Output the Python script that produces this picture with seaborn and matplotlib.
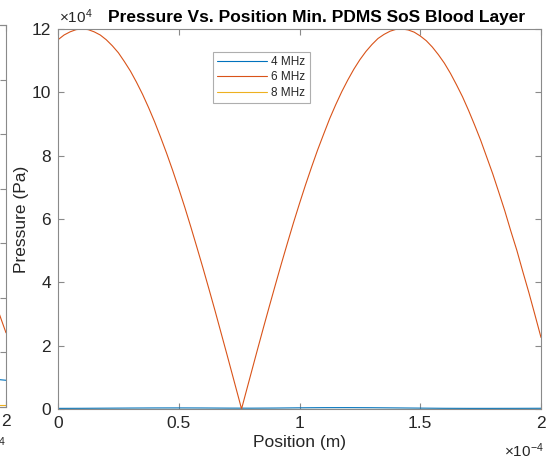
import pandas as pd
import matplotlib
matplotlib.use("Agg")
import matplotlib.pyplot as plt
from matplotlib.ticker import MultipleLocator
import seaborn as sns

# Position along the layer (units of 1e-4 m)
position = [0.000, 0.025, 0.050, 0.075, 0.100, 0.125, 0.150, 0.175, 0.200, 0.225,
            0.250, 0.275, 0.300, 0.325, 0.350, 0.375, 0.400, 0.425, 0.450, 0.475,
            0.500, 0.525, 0.550, 0.575, 0.600, 0.625, 0.650, 0.675, 0.700, 0.725,
            0.750, 0.760, 0.775, 0.800, 0.825, 0.850, 0.875, 0.900, 0.925, 0.950,
            0.975, 1.000, 1.025, 1.050, 1.075, 1.100, 1.125, 1.150, 1.175, 1.200,
            1.225, 1.250, 1.275, 1.300, 1.325, 1.350, 1.375, 1.400, 1.425, 1.450,
            1.475, 1.500, 1.525, 1.550, 1.575, 1.600, 1.625, 1.650, 1.675, 1.700,
            1.725, 1.750, 1.775, 1.800, 1.825, 1.850, 1.875, 1.900, 1.925, 1.950,
            1.975, 2.000]
# Pressure amplitude at 6 MHz (units of 1e4 Pa)
p_6mhz = [11.66, 11.81, 11.91, 11.98, 12.00, 11.98, 11.91, 11.81, 11.66, 11.47,
          11.25, 10.97, 10.67, 10.32, 9.94, 9.52, 9.07, 8.58, 8.07, 7.53,
          6.96, 6.37, 5.75, 5.11, 4.46, 3.79, 3.11, 2.41, 1.71, 1.00,
          0.29, 0.00, 0.43, 1.14, 1.85, 2.55, 3.24, 3.92, 4.59, 5.24,
          5.88, 6.49, 7.08, 7.64, 8.18, 8.68, 9.17, 9.61, 10.02, 10.39,
          10.73, 11.03, 11.29, 11.51, 11.70, 11.83, 11.93, 11.99, 12.00, 11.97,
          11.90, 11.78, 11.63, 11.43, 11.19, 10.92, 10.60, 10.24, 9.86, 9.43,
          8.97, 8.49, 7.96, 7.43, 6.85, 6.26, 5.62, 5.01, 4.33, 3.67,
          2.97, 2.26]

# Coarser sampling for the low-amplitude 4 MHz and 8 MHz traces
position_lo = [0.0, 0.1, 0.2, 0.3, 0.4, 0.5, 0.6, 0.7, 0.8, 0.9, 1.0,
               1.1, 1.2, 1.3, 1.4, 1.5, 1.6, 1.7, 1.8, 1.9, 2.0]
p_4mhz = [0.020, 0.022, 0.026, 0.030, 0.033, 0.034, 0.032, 0.028, 0.026, 0.030, 0.037,
          0.042, 0.043, 0.040, 0.034, 0.028, 0.022, 0.020, 0.020, 0.021, 0.023]
p_8mhz = [0.006, 0.006, 0.006, 0.006, 0.006, 0.006, 0.006, 0.006, 0.006, 0.006, 0.006,
          0.006, 0.006, 0.006, 0.006, 0.006, 0.006, 0.006, 0.006, 0.006, 0.006]
series_labels = ["4 MHz", "6 MHz", "8 MHz"]

# Tail end of the neighbouring subplot
prev_position = [1.90, 1.95, 2.00]
prev_4mhz = [0.52, 0.51, 0.49]
prev_6mhz = [2.60, 1.98, 1.36]
prev_8mhz = [0.04, 0.04, 0.04]

colors = ["#0072BD", "#D95319", "#EDB120"]
axis_gray = "#8a8a8a"
text_dark = "#262626"
FS = 12.5

sns.set_theme(style="white")
plt.rcParams["font.family"] = ["Liberation Sans", "DejaVu Sans"]
plt.rcParams["mathtext.fontset"] = "custom"
plt.rcParams["mathtext.rm"] = "Liberation Sans"
plt.rcParams["mathtext.it"] = "Liberation Sans"

W, H = 551, 461
fig = plt.figure(figsize=(W / 100, H / 100), dpi=100)
fig.patch.set_facecolor("white")


def px_axes(left, top, right, bottom):
    return fig.add_axes([left / W, 1 - bottom / H, (right - left) / W, (bottom - top) / H])


def style_axes(ax):
    for s in ax.spines.values():
        s.set_color(axis_gray)
        s.set_linewidth(0.8)
    ax.tick_params(direction="in", length=4, width=0.8, color=axis_gray,
                   top=True, right=True, bottom=True, left=True,
                   labelsize=FS, labelcolor=text_dark, pad=5)


df = pd.DataFrame({
    "Position": position_lo + position + position_lo,
    "Pressure": p_4mhz + p_6mhz + p_8mhz,
    "Frequency": [series_labels[0]] * len(position_lo) + [series_labels[1]] * len(position)
    + [series_labels[2]] * len(position_lo),
})

prev_df = pd.DataFrame({
    "Position": prev_position * 3,
    "Pressure": prev_4mhz + prev_6mhz + prev_8mhz,
    "Frequency": [series_labels[0]] * 3 + [series_labels[1]] * 3 + [series_labels[2]] * 3,
})

# Neighbouring subplot, almost entirely outside the canvas
ax0 = px_axes(6 - 483, 25, 6, 407)
sns.lineplot(data=prev_df, x="Position", y="Pressure", hue="Frequency",
             hue_order=series_labels, palette=colors, linewidth=0.8, legend=False, ax=ax0)
ax0.set_xlim(0, 2)
ax0.set_ylim(0, 7)
ax0.yaxis.set_major_locator(MultipleLocator(1))
ax0.xaxis.set_major_locator(MultipleLocator(0.5))
ax0.xaxis.set_major_formatter(lambda v, p: f"{v:g}")
ax0.set_xlabel("")
ax0.set_ylabel("")
style_axes(ax0)
ax0.text(1.0, -0.075, r"$\times10^{-4}$", transform=ax0.transAxes, ha="right", va="top",
         fontsize=11, color=text_dark)

# Main subplot
ax = px_axes(58, 29, 541, 409)
sns.lineplot(data=df, x="Position", y="Pressure", hue="Frequency",
             hue_order=series_labels, palette=colors, linewidth=0.8, ax=ax)
ax.set_xlim(0, 2)
ax.set_ylim(0, 12)
ax.xaxis.set_major_locator(MultipleLocator(0.5))
ax.yaxis.set_major_locator(MultipleLocator(2))
ax.xaxis.set_major_formatter(lambda v, p: f"{v:g}")
ax.yaxis.set_major_formatter(lambda v, p: f"{v:g}")
style_axes(ax)
ax.set_xlabel("Position (m)", fontsize=FS, color=text_dark, labelpad=3)
ax.set_ylabel("Pressure (Pa)", fontsize=FS, color=text_dark, labelpad=2)
ax.set_title("Pressure Vs. Position Min. PDMS SoS Blood Layer", fontsize=FS,
             fontweight="bold", color="black", x=0.535, pad=5)
ax.text(0.003, 1.008, r"$\times10^{4}$", transform=ax.transAxes, ha="left", va="bottom",
        fontsize=11, color=text_dark)
ax.text(1.005, -0.085, r"$\times10^{-4}$", transform=ax.transAxes, ha="right", va="top",
        fontsize=11, color=text_dark)

leg = ax.legend(loc="upper left", bbox_to_anchor=(0.321, 0.94), fontsize=8.5,
                frameon=True, fancybox=False, handlelength=4.2, handletextpad=0.4,
                borderpad=0.35, labelspacing=0.3, borderaxespad=0)
leg.get_frame().set_edgecolor("#9a9a9a")
leg.get_frame().set_linewidth(0.8)
for line in leg.get_lines():
    line.set_linewidth(0.8)

fig.savefig("out.png", dpi=100, facecolor="white")
